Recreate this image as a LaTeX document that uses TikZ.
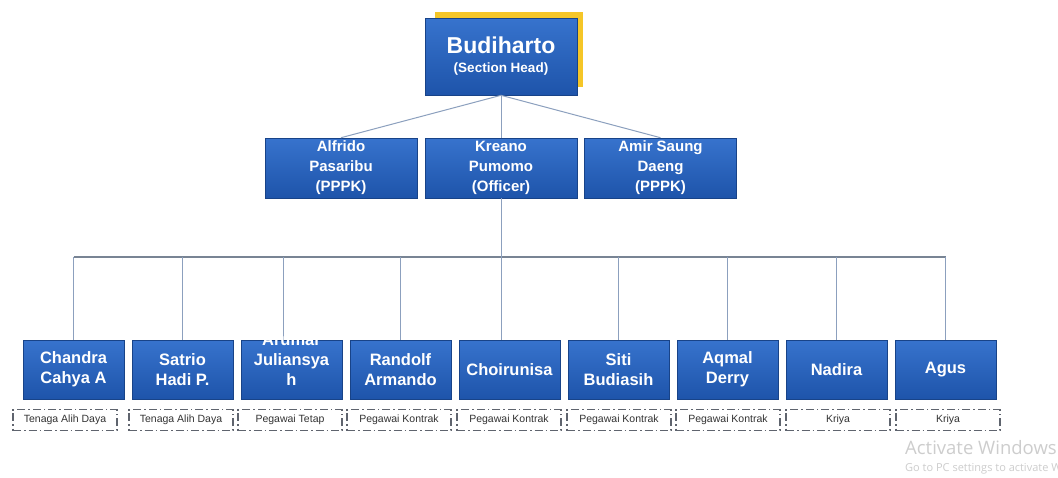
\documentclass[tikz,border=0pt]{standalone}
\usepackage{fontspec}
\setsansfont{Liberation Sans}
\newfontfamily\wmfont{Open Sans}
\definecolor{boxtop}{RGB}{55,115,205}
\definecolor{boxbot}{RGB}{30,84,170}
\definecolor{gold}{RGB}{245,198,40}
\definecolor{conn}{RGB}{140,160,190}
\definecolor{busc}{RGB}{120,132,148}
\definecolor{lbl}{RGB}{95,100,110}
\definecolor{wm}{RGB}{205,205,205}
\tikzset{
  bluebox/.style={rectangle, top color=boxtop, bottom color=boxbot, draw=boxbot!80!black, line width=0.6pt,
    text=white, align=center, font=\sffamily\bfseries, inner sep=1pt},
  rowtwo/.style={bluebox, minimum width=152pt, minimum height=60pt, font=\sffamily\bfseries\fontsize{15}{20}\selectfont},
  rowthree/.style={bluebox, minimum width=101pt, minimum height=59pt, font=\sffamily\bfseries\fontsize{16.5}{20}\selectfont},
  lblbox/.style={rectangle, draw=lbl, line width=1.5pt, dash pattern=on 8pt off 3pt on 1.5pt off 3pt,
    minimum width=104pt, minimum height=21pt, inner sep=0pt, font=\sffamily\fontsize{10.5}{12}\selectfont, text=black!80},
  conline/.style={draw=conn, line width=1pt},
  busline/.style={draw=busc, line width=1.8pt}
}
\begin{document}
\begin{tikzpicture}[x=1pt,y=-1pt]
\useasboundingbox (0,0) rectangle (1058,477);
\fill[white] (0,0) rectangle (1058,477);
% yellow shadow
\fill[gold] (435,12) rectangle (583,87);
% top box
\node[bluebox, minimum width=152pt, minimum height=77pt] (top) at (501,56.5)
  {{\fontsize{23}{25}\selectfont Budiharto}\\[7pt]{\fontsize{13.5}{14}\selectfont (Section Head)}};
% row two
\node[rowtwo] (a) at (341,168) {Alfrido\\Pasaribu\\(PPPK)};
\node[rowtwo] (b) at (501,168) {Kreano\\Pumomo\\(Officer)};
\node[rowtwo] (c) at (660.5,168) {Amir Saung\\Daeng\\(PPPK)};
% connectors top -> row two
\draw[conline] (top.south) -- (a.north);
\draw[conline] (top.south) -- (b.north);
\draw[conline] (top.south) -- (c.north);
% row three
\node[rowthree] (k1) at (73.5,369.5) {Chandra\\Cahya A};
\node[rowthree] (k2) at (182.5,369.5) {Satrio\\Hadi P.};
\node[rowthree] (k4) at (400.5,369.5) {Randolf\\Armando};
\node[rowthree] (k5) at (509.5,369.5) {Choirunisa};
\node[rowthree] (k6) at (618.5,369.5) {Siti\\Budiasih};
\node[rowthree] (k7) at (727.5,369.5) {Aqmal\\Derry};
\node[rowthree] (k8) at (836.5,369.5) {Nadira};
\node[rowthree] (k9) at (945.5,369.5) {Agus};
% bus
\coordinate (bus) at (501,257);
\draw[busline] (k1.north |- bus) -- (k9.north |- bus);
\draw[conline] (b.south) -- (b.south |- k5.north);
\foreach \k in {k1,k2,k4,k6,k7,k8,k9}{
  \draw[conline] (\k.north |- bus) -- (\k.north);
}
\coordinate (k3top) at (283,340);
\draw[conline] (k3top |- bus) -- (k3top);
% Arumar box (first line runs over the top edge)
\node[rowthree] (k3) at (291.5,369.5) {};
\node[text=white, align=center, font=\sffamily\bfseries\fontsize{16.5}{20}\selectfont, inner sep=0pt] (k3t) at (291.5,360) {Arumar\\Juliansya\\h};
% labels
\node[lblbox] (l1) at (65,420) {Tenaga Alih Daya};
\node[lblbox] (l2) at (181,420) {Tenaga Alih Daya};
\node[lblbox] (l3) at (290,420) {Pegawai Tetap};
\node[lblbox] (l4) at (399,420) {Pegawai Kontrak};
\node[lblbox] (l5) at (509,420) {Pegawai Kontrak};
\node[lblbox] (l6) at (619,420) {Pegawai Kontrak};
\node[lblbox] (l7) at (728,420) {Pegawai Kontrak};
\node[lblbox] (l8) at (838,420) {Kriya};
\node[lblbox] (l9) at (948,420) {Kriya};
% watermark (runs off the right edge, as in the screenshot)
\node[anchor=west, inner sep=0pt, text=wm, font=\wmfont\fontsize{18.5}{20}\selectfont] (wm1) at (905,448) {Activate Windows};
\node[anchor=west, inner sep=0pt, text=wm, font=\wmfont\fontsize{11}{12}\selectfont] (wm2) at (905,469) {Go to PC settings to activate Windows.};
\end{tikzpicture}
\end{document}
